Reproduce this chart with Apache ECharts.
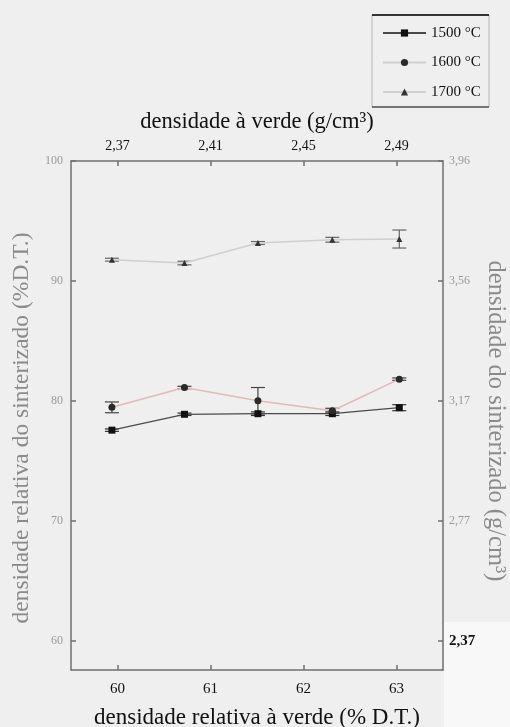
<!DOCTYPE html>
<html>
<head>
<meta charset="utf-8">
<script src="https://cdn.jsdelivr.net/npm/echarts@6/dist/echarts.min.js"></script>
<style>
  html, body { margin: 0; padding: 0; background: #efefef; }
  #chart { width: 510px; height: 727px; }
</style>
</head>
<body>
<div id="chart"></div>
<script>
// Green relative density (% D.T.) of each compact
const greenPct = [59.94, 60.72, 61.51, 62.31, 63.03];

// Sintered relative density (% D.T.) per sintering temperature
const sint1500 = [77.58, 78.9, 78.95, 78.95, 79.45];
const sint1600 = [79.48, 81.13, 80.03, 79.2, 81.83];
const sint1700 = [91.78, 91.5, 93.17, 93.44, 93.5];

// Half-widths of the error bars (% D.T.)
const err1500 = [0.1, 0.1, 0.15, 0.15, 0.25];
const err1600 = [0.45, 0.1, 1.1, 0.2, 0.1];
const err1700 = [0.12, 0.15, 0.12, 0.2, 0.75];

const seriesNames = ['1500 °C', '1600 °C', '1700 °C'];

// Axis ticks
const bottomTicks = [60, 61, 62, 63];
const topTicks = [2.37, 2.41, 2.45, 2.49];
const leftTicks = [60, 70, 80, 90, 100];
const rightTickLabels = ['2,37', '2,77', '3,17', '3,56', '3,96'];

// Axis titles
const titleBottom = 'densidade relativa à verde (% D.T.)';
const titleTop = 'densidade à verde (g/cm³)';
const titleLeft = 'densidade relativa do sinterizado (%D.T.)';
const titleRight = 'densidade do sinterizado (g/cm³)';

const FONT = 'Liberation Serif';
const axisLineStyle = { color: '#707070', width: 1.5 };

function pairs(ys) { return ys.map((y, i) => [greenPct[i], y]); }
function errData(ys, es) { return ys.map((y, i) => [greenPct[i], y - es[i], y + es[i]]); }

function errorBars(name, ys, es, color) {
  return {
    type: 'custom',
    name: name + ' err',
    xAxisIndex: 0,
    yAxisIndex: 0,
    silent: true,
    z: 3,
    data: errData(ys, es),
    renderItem: function (params, api) {
      const x = api.value(0);
      const lo = api.coord([x, api.value(1)]);
      const hi = api.coord([x, api.value(2)]);
      const w = 7;
      const st = { stroke: color, lineWidth: 1.2 };
      return {
        type: 'group',
        children: [
          { type: 'line', shape: { x1: lo[0], y1: lo[1], x2: hi[0], y2: hi[1] }, style: st },
          { type: 'line', shape: { x1: lo[0] - w, y1: lo[1], x2: lo[0] + w, y2: lo[1] }, style: st },
          { type: 'line', shape: { x1: hi[0] - w, y1: hi[1], x2: hi[0] + w, y2: hi[1] }, style: st }
        ]
      };
    }
  };
}

const chart = echarts.init(document.getElementById('chart'), null, { renderer: 'canvas' });

const option = {
  backgroundColor: '#efefef',
  animation: false,
  textStyle: { fontFamily: FONT },
  grid: { left: 71, right: 67, top: 161, bottom: 57, containLabel: false, outerBoundsMode: 'none' },
  legend: {
    orient: 'vertical',
    left: 382,
    top: 25.5,
    padding: 0,
    itemWidth: 43,
    itemHeight: 9,
    itemGap: 14.5,
    data: [
      { name: seriesNames[0] },
      { name: seriesNames[1], lineStyle: { color: '#cfcfcf' } },
      { name: seriesNames[2] }
    ],
    textStyle: { fontFamily: FONT, fontSize: 15, color: '#111' }
  },
  graphic: [
    { type: 'rect', silent: true, z: -1, shape: { x: 444, y: 622, width: 66, height: 105 }, style: { fill: '#f8f8f8' } },
    { type: 'rect', silent: true, shape: { x: 372, y: 15, width: 117, height: 92 }, style: { fill: 'none', stroke: '#b5b5b5', lineWidth: 1 } },
    { type: 'line', silent: true, shape: { x1: 372, y1: 15, x2: 489, y2: 15 }, style: { stroke: '#333', lineWidth: 2 } },
    { type: 'line', silent: true, shape: { x1: 372, y1: 107, x2: 489, y2: 107 }, style: { stroke: '#555', lineWidth: 1.5 } },
    {
      type: 'text', silent: true, x: 22, y: 428, rotation: Math.PI / 2,
      style: { text: titleLeft, fontFamily: FONT, fontSize: 23.5, fill: '#8a8a8a', align: 'center', verticalAlign: 'middle' }
    },
    {
      type: 'text', silent: true, x: 495, y: 421, rotation: -Math.PI / 2,
      style: { text: titleRight, fontFamily: FONT, fontSize: 24.5, fill: '#8a8a8a', align: 'center', verticalAlign: 'middle' }
    }
  ],
  xAxis: [
    {
      type: 'value',
      position: 'bottom',
      min: 59.5,
      max: 63.5,
      name: titleBottom,
      nameLocation: 'middle',
      nameGap: 36,
      nameTextStyle: { fontFamily: FONT, fontSize: 23, color: '#111' },
      axisLine: { onZero: false, lineStyle: axisLineStyle },
      axisTick: { inside: true, length: 5, customValues: bottomTicks, lineStyle: axisLineStyle },
      axisLabel: { customValues: bottomTicks, fontFamily: FONT, fontSize: 15, color: '#111', margin: 12 },
      splitLine: { show: false }
    },
    {
      type: 'value',
      position: 'top',
      min: 2.35,
      max: 2.51,
      name: titleTop,
      nameLocation: 'middle',
      nameGap: 27,
      nameTextStyle: { fontFamily: FONT, fontSize: 22.5, color: '#111' },
      axisLine: { onZero: false, lineStyle: axisLineStyle },
      axisTick: { inside: true, length: 5, customValues: topTicks, lineStyle: axisLineStyle },
      axisLabel: {
        customValues: topTicks,
        fontFamily: FONT, fontSize: 14, color: '#111', margin: 8,
        formatter: v => v.toFixed(2).replace('.', ',')
      },
      splitLine: { show: false }
    }
  ],
  yAxis: [
    {
      type: 'value',
      position: 'left',
      min: 57.6,
      max: 100,
      axisLine: { onZero: false, lineStyle: axisLineStyle },
      axisTick: { inside: true, length: 5, customValues: leftTicks, lineStyle: axisLineStyle },
      axisLabel: { customValues: leftTicks, fontFamily: FONT, fontSize: 12, color: '#9a9a9a', margin: 8 },
      splitLine: { show: false }
    },
    {
      type: 'value',
      position: 'right',
      min: 57.6,
      max: 100,
      axisLine: { onZero: false, lineStyle: axisLineStyle },
      axisTick: { inside: true, length: 5, customValues: leftTicks, lineStyle: axisLineStyle },
      axisLabel: {
        customValues: leftTicks,
        fontFamily: FONT, fontSize: 12, color: '#9a9a9a', margin: 6,
        formatter: v => {
          const i = leftTicks.indexOf(v);
          const s = rightTickLabels[i];
          return i === 0 ? '{b|' + s + '}' : s;
        },
        rich: { b: { fontFamily: FONT, fontSize: 15, fontWeight: 'bold', color: '#111' } }
      },
      splitLine: { show: false }
    }
  ],
  series: [
    {
      name: seriesNames[0],
      type: 'line',
      xAxisIndex: 0, yAxisIndex: 0,
      data: pairs(sint1500),
      symbol: 'rect', symbolSize: 7,
      lineStyle: { color: '#4a4a4a', width: 1.3 },
      itemStyle: { color: '#111' },
      z: 4
    },
    {
      name: seriesNames[1],
      type: 'line',
      xAxisIndex: 0, yAxisIndex: 0,
      data: pairs(sint1600),
      symbol: 'circle', symbolSize: 7,
      lineStyle: { color: '#e2b9b9', width: 1.5 },
      itemStyle: { color: '#2a2a2a' },
      z: 4
    },
    {
      name: seriesNames[2],
      type: 'line',
      xAxisIndex: 0, yAxisIndex: 0,
      data: pairs(sint1700),
      symbol: 'triangle', symbolSize: 6,
      lineStyle: { color: '#cfcfcf', width: 1.5 },
      itemStyle: { color: '#333' },
      z: 4
    },
    errorBars(seriesNames[0], sint1500, err1500, '#333'),
    errorBars(seriesNames[1], sint1600, err1600, '#444'),
    errorBars(seriesNames[2], sint1700, err1700, '#666')
  ]
};

chart.setOption(option);
</script>
</body>
</html>
